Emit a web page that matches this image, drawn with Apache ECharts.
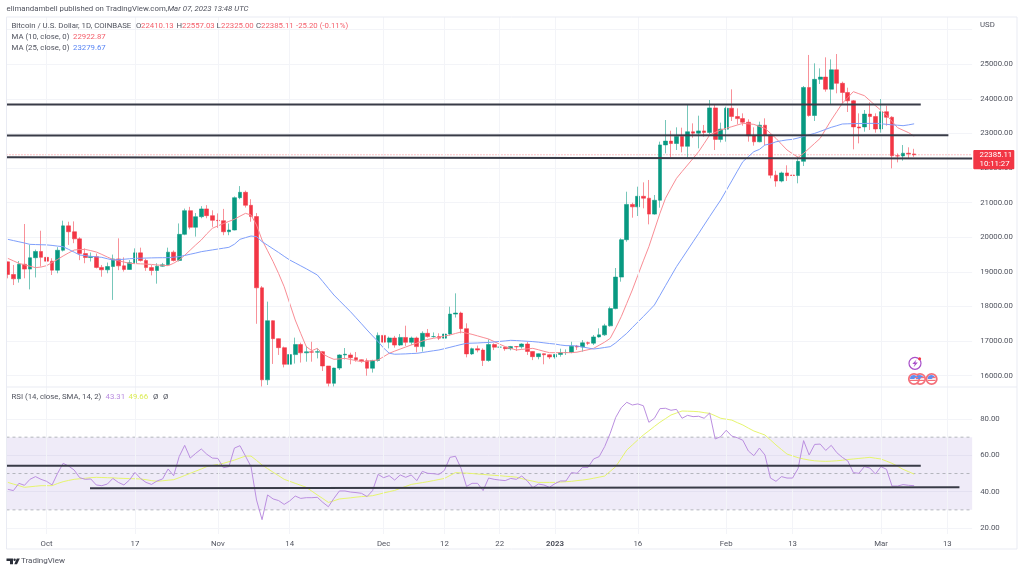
<!DOCTYPE html>
<html><head><meta charset="utf-8">
<script src="https://cdn.jsdelivr.net/npm/echarts@6/dist/echarts.min.js"></script>
<style>html,body{margin:0;padding:0;background:#fff}#c{width:1024px;height:572px}</style>
</head><body><div id="c"></div>
<script>
// Daily candles from 2022-09-24 (index 0)
const opens = [
19290,18925,18800,19220,19080,19410,19590,19420,19310,19050,
19625,20330,20160,19955,19530,19415,19440,19130,19060,19155,
19375,19175,19070,19265,19550,19330,19125,19040,19165,19205,
19570,19330,20085,20770,20290,20595,20820,20625,20490,20480,
20160,20210,21145,21300,20925,20600,18540,15880,17590,17070,
16810,16330,16610,16900,16660,16690,16680,16695,16280,15780,
16220,16600,16600,16520,16460,16430,16215,16440,17165,16970,
17090,16885,17105,16965,17090,16840,17225,17130,17130,17085,
17205,17780,17810,17360,16630,16780,16740,16440,16900,16825,
16825,16780,16840,16835,16915,16700,16550,16635,16605,16540,
16615,16670,16670,16850,16830,16950,16940,17120,17180,17440,
17940,18850,19930,20950,20880,21185,21130,20670,21070,22670,
22780,22710,22915,22630,23050,23010,23075,23030,23740,22830,
23125,23730,23490,23430,23325,22935,22760,23240,22960,21795,
21625,21860,21800,21785,22195,24330,23520,24565,24630,24280,
24840,24450,24185,23945,23190,23190,23560,23490,23130,23630,
23470,22355,22350,22430,22410.13];
const closes = [
18925,18800,19220,19080,19410,19590,19420,19310,19050,19625,
20330,20160,19955,19530,19415,19440,19130,19060,19155,19375,
19175,19070,19265,19550,19330,19125,19040,19165,19205,19570,
19330,20085,20770,20290,20595,20820,20625,20490,20480,20160,
20210,21145,21300,20925,20600,18540,15880,17590,17070,16810,
16330,16610,16900,16660,16690,16680,16695,16280,15780,16220,
16600,16620,16520,16460,16430,16215,16440,17165,16970,17090,
16885,17105,16965,17090,16840,17225,17130,17130,17085,17205,
17780,17810,17360,16630,16780,16740,16440,16900,16825,16825,
16780,16840,16835,16915,16700,16550,16635,16605,16540,16615,
16670,16670,16850,16830,16950,16940,17120,17180,17440,17940,
18850,19930,20950,20880,21185,21130,20670,21070,22670,22780,
22710,22915,22630,23050,23010,23075,23030,23740,22830,23125,
23730,23490,23430,23325,22935,22760,23240,22960,21795,21625,
21860,21780,21785,22195,24330,23520,24565,24630,24280,24840,
24450,24185,23945,23190,23160,23560,23490,23130,23630,23470,
22355,22350,22430,22410,22385.11];
const highs = [
19295,19200,19315,20384,19780,19645,20190,19480,19395,19715,
20480,20450,20460,20000,19680,19560,19530,19200,19270,19500,
19970,19420,19340,19680,19700,19380,19200,19250,19260,19700,
19620,20400,20830,20880,20700,20900,20930,20780,20690,20820,
20400,21180,21480,21350,21100,20700,18590,18140,17600,17080,
16840,17175,17100,16955,16860,16980,16790,16715,16280,16230,
16620,16800,16665,16685,16470,16500,16460,17250,17290,17130,
17150,17205,17445,17130,17130,17282,17350,17250,17225,17285,
17995,18380,17850,17513,16810,16870,16790,17050,16935,16870,
16840,16860,16858,16935,16985,16710,16646,16646,16618,16627,
16780,16760,16980,16887,17030,16985,17175,17370,17500,17995,
19112,19970,21318,21000,21463,21588,21656,21222,22764,23390,
23081,23178,23168,23823,23293,23515,23246,23968,23823,23313,
23775,24276,23727,23582,23409,23178,23342,23438,22975,21925,
21897,22080,21916,22330,24373,25270,25028,24883,25201,25143,
25297,24498,24324,23968,23582,23679,23900,23582,23996,23804,
23500,22425,22667,22600,22557.03];
const lows = [
18814,18620,18690,18815,18495,18840,19155,19200,18910,18960,
19590,19780,19830,19340,19250,19300,19100,18860,18960,18190,
19050,19010,19060,19225,19300,19030,18900,18660,19150,19180,
19300,19300,20060,20230,20020,20550,20550,20300,20270,20060,
20060,20200,21100,20860,20450,17500,15680,15730,16340,16600,
16240,15800,16350,16380,16405,16405,16500,16135,15680,15680,
16165,16470,16330,16405,16375,16000,16090,16405,16840,16790,
16810,16860,16860,16890,16675,16695,17100,17100,17030,16885,
17158,17680,17224,16530,16600,16675,16280,16405,16740,16570,
16720,16733,16714,16781,16600,16450,16473,16330,16480,16492,
16550,16600,16650,16743,16694,16885,16887,17100,17150,17420,
17918,18717,19873,20567,20615,20837,20374,20650,20856,22426,
22310,22523,22455,22310,22879,22571,22908,22976,22523,22744,
22764,23361,23264,23226,22764,22648,22745,22667,21704,21463,
21588,21627,21386,21560,22060,23486,23361,24430,24209,23852,
24161,23871,23621,22542,22715,23053,23101,23024,23024,23226,
21993,22166,22215,22282,22325];
const ma10 = [
19390,19320,19247,19205,19165,19122,19140,19180,19270,19360,
19460,19550,19632,19645,19650,19615,19575,19505,19430,19360,
19320,19285,19247,19240,19232,19225,19215,19200,19190,19180,
19250,19344,19480,19630,19780,19922,20100,20259,20330,20395,
20460,20520,20610,20692,20645,20355,19922,19610,19296,18950,
18573,18090,17610,17220,16839,16723,16790,16627,16540,16473,
16485,16500,16470,16435,16405,16420,16435,16454,16550,16646,
16710,16770,16830,16887,16940,17000,17050,17080,17110,17145,
17176,17220,17263,17230,17195,17150,17105,17060,16985,16910,
16840,16790,16743,16760,16775,16790,16750,16705,16665,16665,
16666,16666,16666,16680,16715,16750,16790,16880,16970,17080,
17380,17706,18090,18477,18900,19320,19729,20210,20692,21126,
21420,21704,21900,22089,22280,22475,22710,22956,23030,23101,
23150,23197,23245,23293,23280,23264,23205,23149,23005,22860,
22690,22523,22415,22311,22426,22570,22715,22860,23125,23390,
23630,23871,24040,24209,24150,24093,23950,23804,23670,23534,
23350,23168,23095,23024,22922.87];
const ma25 = [
19941,19905,19870,19835,19796,19790,19785,19780,19765,19745,
19729,19650,19570,19488,19470,19450,19435,19420,19380,19343,
19355,19365,19380,19390,19395,19400,19405,19408,19410,19411,
19425,19440,19475,19510,19545,19584,19610,19635,19660,19685,
19710,19800,19941,19990,20037,20018,19874,19770,19665,19560,
19450,19344,19260,19175,19090,19000,18910,18720,18525,18332,
18170,18010,17850,17675,17500,17321,17150,16984,16800,16650,
16620,16625,16630,16640,16646,16670,16695,16720,16743,16780,
16820,16860,16900,16935,16940,16945,16955,16960,16975,16990,
17005,17022,17015,17005,16995,16985,16970,16950,16930,16915,
16887,16868,16868,16858,16830,16800,16771,16790,16815,16839,
16950,17090,17224,17390,17550,17710,17875,18043,18320,18600,
18875,19151,19390,19630,19870,20110,20355,20600,20840,21078,
21355,21630,21910,22185,22330,22475,22540,22667,22700,22760,
22790,22815,22831,22870,22915,22960,23004,23060,23120,23178,
23225,23274,23280,23285,23288,23290,23292,23293,23280,23265,
23250,23240,23226,23250,23279.67];
const rsi = [
41.3,40.6,44.6,43.5,46.8,48.3,46.8,45.7,43.7,50.1,
55.6,54.1,51.9,47.7,46.8,47,43.7,43.3,44.2,47.3,
45.1,43.7,46.4,50.6,47.3,45.1,44,45.9,47,52.5,
48.8,59.3,65.5,58.5,61.1,63.5,60.6,58.5,58.3,53.2,
53.8,64,65.3,59.6,53.8,35.4,24.6,38.2,36,35.1,
33,34.9,37.6,36.3,36.7,36.7,36.9,34.1,31.7,36.3,
40.4,40.4,39.8,39.5,39.1,37.3,40.6,49.5,47.7,48.8,
46.4,49.2,47.9,49.2,46.1,51.2,50.1,49.9,49.5,51.7,
58.9,59.5,52.9,42.9,44.6,44.6,40.6,47.5,46.8,46.4,
46.1,47.3,46.8,48.6,45.9,42.2,44.2,43.7,42.4,44.4,
45.9,45.9,50.5,50.1,53.4,53.4,58,59.3,64.8,72.1,
80.9,86.2,89.2,87.7,88.3,87.3,78.2,80.4,85.7,85.9,
84.8,85.3,80.4,82,81.3,81.5,80.4,83.3,69,70.3,
73.8,70.6,69.7,68.3,62.4,59.8,64,60.2,47.5,45.7,
48.3,47.5,47.5,52.8,68.1,60.2,66,66.2,62.7,65.5,
61.5,58.9,56.9,50.5,50.1,53.8,53,49.7,53.8,52.3,
43.1,43.1,43.9,43.5,43.31];
const rsiMa = [
45.1,44.2,43.3,42.4,42.7,43,43.3,43.3,43.3,44.5,
45.5,46.2,46.8,47.1,47.4,47.7,47.9,47.8,47.7,47.6,
47.4,47.3,47.2,47.1,47,46.6,46.1,45.7,46,46.3,
46.6,47.7,48.9,50.1,51.3,52.5,53.8,54.4,55,55.6,
56.5,57.4,58.5,59.6,59.6,57.2,54.7,52.7,50.7,48.8,
46.8,45.7,44.6,43.5,42.4,40.3,38.2,36.2,34.1,35,
36,36.3,36.6,37,37.3,37.5,37.8,38.5,39.3,40,
40.7,41.8,42.9,44,44.5,45,45.5,46.1,46.7,47.3,
48.9,50.5,50.3,50.2,50,49.7,49.5,49.2,49,48.8,
48.5,48.3,48,47.2,46.4,45.8,45.1,45.1,45.1,45.1,
45.3,45.5,45.7,46.1,46.4,46.8,47.4,48,48.6,51.2,
53.8,58.3,62.9,65.7,68.5,71.2,73.5,75.9,78.2,80.2,
82.2,83.3,84.4,84.3,84.2,84,83.5,83.1,81.8,80.4,
79.9,79.4,78,76.7,75,73.4,72.3,71.2,68.5,65.7,
63.2,60.7,59.7,58.7,58,57.4,57,56.8,56.7,56.8,
57,57.3,57.7,58,58.3,58.6,58.9,58.4,58,56.8,
55.6,54,52.3,51,49.66];
// Hand-drawn levels: [[startIndex, value],[endIndex, value]]
const priceLevels = [
 [[-0.25,23838],[165.2,23838]],
 [[-0.25,22945],[170.2,22950]],
 [[-0.25,22317],[174.5,22280]]];
const rsiLevels = [
 [[-0.25,54.3],[165.2,54.3]],
 [[14.86,41.9],[172.2,42.4]]];
const rsiGuides = [70,50,30];
const priceTicks = [16000,17000,18000,19000,20000,21000,22000,23000,24000,25000,26000];
const rsiTicks = [20,40,60,80];
const dateTicks = {'2022-10-01':'Oct','2022-10-17':'17','2022-11-01':'Nov','2022-11-14':'14','2022-12-01':'Dec','2022-12-12':'12','2022-12-22':'22','2023-01-01':'2023','2023-01-16':'16','2023-02-01':'Feb','2023-02-13':'13','2023-03-01':'Mar','2023-03-13':'13'};
const lastPrice = 22385.11;

const categories = [];
for (let d = new Date(Date.UTC(2022,8,24)), k = 0; k < 175; k++, d = new Date(d.getTime()+864e5)) categories.push(d.toISOString().slice(0,10));

const FONT = 'Roboto';
const FS = 7.8;
const GRID='#f3f4f8', FRAME='#e9ebf3', TXT='#50535e', UP='#089981', DN='#f23645', LINE='#383b47';
const L=5.1, W=967.05;
const chart = echarts.init(document.getElementById('c'),null,{renderer:'canvas'});
const grids=[{left:L,top:17,width:W,height:370},{left:L,top:387,width:W,height:147}];
const hidden=(g)=>({type:'value',gridIndex:g,min:-0.5,max:174.5,show:false});
const gridMarks=(xi,yi)=>({type:'line',xAxisIndex:xi,yAxisIndex:yi,data:[],z:1,silent:true,
  markLine:{silent:true,symbol:'none',animation:false,label:{show:false},lineStyle:{color:GRID,width:1,type:'solid'},
    data:Object.keys(dateTicks).map(c=>({xAxis:c}))}});
const segLine=(xi,yi,pts,style,z)=>({type:'line',xAxisIndex:xi,yAxisIndex:yi,data:pts,symbol:'none',silent:true,z:z||6,lineStyle:style,animation:false});
const series=[
  gridMarks(0,0),gridMarks(1,1),
  {type:'line',xAxisIndex:3,yAxisIndex:1,data:[],z:1,silent:true,
   markArea:{silent:true,itemStyle:{color:'rgba(126,87,194,0.12)'},data:[[{coord:[-0.25,70]},{coord:[174.5,30]}]]}},
  segLine(2,0,[[-0.25,lastPrice],[174.5,lastPrice]],{color:'#f7868f',width:1,type:[1,2]},2),
  {type:'candlestick',xAxisIndex:0,yAxisIndex:0,z:3,barWidth:4.2,silent:true,
   data:categories.slice(0,closes.length).map((c,i)=>[opens[i],closes[i],lows[i],highs[i]]),
   itemStyle:{color:UP,color0:DN,borderColor:'rgba(8,153,129,0.55)',borderColor0:'rgba(242,54,69,0.55)',borderWidth:1}},
  {type:'line',xAxisIndex:0,yAxisIndex:0,data:ma10,symbol:'none',z:4,silent:true,lineStyle:{color:'#f98d95',width:1}},
  {type:'line',xAxisIndex:0,yAxisIndex:0,data:ma25,symbol:'none',z:4,silent:true,lineStyle:{color:'#7f9ffb',width:1}},
  {type:'line',xAxisIndex:1,yAxisIndex:1,data:rsiMa,symbol:'none',z:4,silent:true,lineStyle:{color:'#e6f56e',width:1}},
  {type:'line',xAxisIndex:1,yAxisIndex:1,data:rsi,symbol:'none',z:5,silent:true,lineStyle:{color:'#bb8fe0',width:1}},
];
priceLevels.forEach(p=>series.push(segLine(2,0,p,{color:LINE,width:2})));
rsiLevels.forEach(p=>series.push(segLine(3,1,p,{color:LINE,width:2})));
rsiGuides.forEach(v=>series.push(segLine(3,1,[[-0.25,v],[174.5,v]],{color:'#b4b6bd',width:1,type:[3,3]},2)));

const T=(x,y,text,fill,extra)=>({type:'text',x,y,z:60,silent:true,style:Object.assign({text,fill:fill||TXT,font:FS+'px '+FONT,textVerticalAlign:'middle'},extra||{})});
const RED='#f4606c';
function flag(cx,cy){return [
  {type:'circle',shape:{cx,cy,r:5.2},z:61,silent:true,style:{fill:'#fff',stroke:'#f4707a',lineWidth:1.8}},
  {type:'sector',shape:{cx,cy,r:4,startAngle:Math.PI,endAngle:Math.PI*1.8},z:62,silent:true,style:{fill:'#5f8ef0'}},
  {type:'line',shape:{x1:cx-4,y1:cy+1.4,x2:cx+4,y2:cy+1.4},z:62,silent:true,style:{stroke:'#f4707a',lineWidth:1.2}},
  {type:'line',shape:{x1:cx+0.8,y1:cy-1.4,x2:cx+4,y2:cy-1.4},z:62,silent:true,style:{stroke:'#f4707a',lineWidth:1.2}}];}
const graphic=[
  {type:'rect',shape:{x:0,y:17,width:6.5,height:532},z:50,silent:true,style:{fill:'#fff'}},
  {type:'rect',shape:{x:6.5,y:17,width:1010.5,height:532},z:51,silent:true,style:{fill:'none',stroke:FRAME,lineWidth:1}},
  {type:'line',shape:{x1:6.5,y1:387,x2:1017,y2:387},z:51,silent:true,style:{stroke:FRAME,lineWidth:1}},
  T(6.5,9.3,'elimandambell published on TradingView.com, ',TXT,{font:'7.8px '+FONT}),
  T(167.5,9.3,'Mar 07, 2023 13:48 UTC',TXT,{font:'italic 7.8px '+FONT}),
  T(11.5,26.5,'Bitcoin / U.S. Dollar, 1D, COINBASE'),
  T(136,26.5,'O'),T(141,26.5,'22410.13',RED),
  T(176.5,26.5,'H'),T(182,26.5,'22557.03',RED),
  T(216.5,26.5,'L'),T(221,26.5,'22325.00',RED),
  T(256,26.5,'C'),T(261,26.5,'22385.11',RED),
  T(296,26.5,'-25.20 (-0.11%)',RED),
  T(11.5,37.3,'MA (10, close, 0)'),T(73,37.3,'22922.87',RED),
  T(11.5,48,'MA (25, close, 0)'),T(73,48,'23279.67','#5a86f5'),
  T(980,25,'USD'),
  T(11.5,397.3,'RSI (14, close, SMA, 14, 2)'),T(105.5,397.3,'43.31','#b98de0'),T(128.5,397.3,'49.66','#dcec55'),T(153,397.3,'Ø'),T(163,397.3,'Ø'),
  {type:'rect',shape:{x:973.3,y:150,width:41,height:19.3,r:1},z:55,silent:true,style:{fill:DN}},
  T(979.5,155,'22385.11','#fff',{font:FS+'px '+FONT}),
  T(979.5,164.3,'10:11:27','#fff',{font:FS+'px '+FONT}),
  {type:'circle',shape:{cx:915,cy:363.3,r:6},z:61,silent:true,style:{fill:'#fff',stroke:'#a84fc9',lineWidth:1.2}},
  {type:'polygon',shape:{points:[[916.5,359.5],[912.3,364],[914.8,364],[913.6,367.2],[917.8,362.6],[915.2,362.6]]},z:62,silent:true,style:{fill:'#a84fc9'}},
  {type:'circle',shape:{cx:919.6,cy:358.7,r:1.5},z:62,silent:true,style:{fill:'#f23645'}},
  ...flag(920,379),...flag(914,379),...flag(931.6,379),
  {type:'polygon',shape:{points:[[6.5,558.5],[13,558.5],[13,564.2],[10,564.2],[10,561],[6.5,561]]},z:60,silent:true,style:{fill:'#2a2e39'}},
  {type:'circle',shape:{cx:14.6,cy:559.8,r:1.2},z:60,silent:true,style:{fill:'#2a2e39'}},
  {type:'polygon',shape:{points:[[16.8,558.5],[19.8,558.5],[17,564.2],[14.3,564.2]]},z:60,silent:true,style:{fill:'#2a2e39'}},
  T(21,561.3,'TradingView','#50535e',{font:'8px '+FONT}),
];
chart.setOption({
  animation:false,backgroundColor:'#fff',grid:grids,
  xAxis:[
   {type:'category',gridIndex:0,data:categories,show:false},
   {type:'category',gridIndex:1,data:categories,axisLine:{show:false},axisTick:{show:false},splitLine:{show:false},
    axisLabel:{show:true,margin:3,hideOverlap:false,color:TXT,fontFamily:FONT,fontSize:FS,lineHeight:14,
      interval:(i,v)=>dateTicks[v]!==undefined,
      formatter:v=>dateTicks[v]==='2023'?'{b|2023}':(dateTicks[v]||''),
      rich:{b:{fontWeight:'bold',fontFamily:FONT,fontSize:FS,color:TXT,lineHeight:14}}}},
   hidden(0),hidden(1)],
  yAxis:[
   {type:'value',gridIndex:0,position:'right',min:15673,max:26367,scale:true,axisLine:{show:false},
    axisTick:{show:false,customValues:priceTicks},
    axisLabel:{customValues:priceTicks.slice(0,-1),margin:8,color:TXT,fontFamily:FONT,fontSize:FS,formatter:v=>v.toFixed(2)},
    splitLine:{show:true,lineStyle:{color:GRID,width:1}}},
   {type:'value',gridIndex:1,position:'right',min:16.71,max:97.61,scale:true,axisLine:{show:false},
    axisTick:{show:false,customValues:rsiTicks},
    axisLabel:{customValues:rsiTicks,margin:8,color:TXT,fontFamily:FONT,fontSize:FS,formatter:v=>v.toFixed(2)},
    splitLine:{show:true,lineStyle:{color:GRID,width:1}}}],
  series,graphic
});
</script></body></html>
